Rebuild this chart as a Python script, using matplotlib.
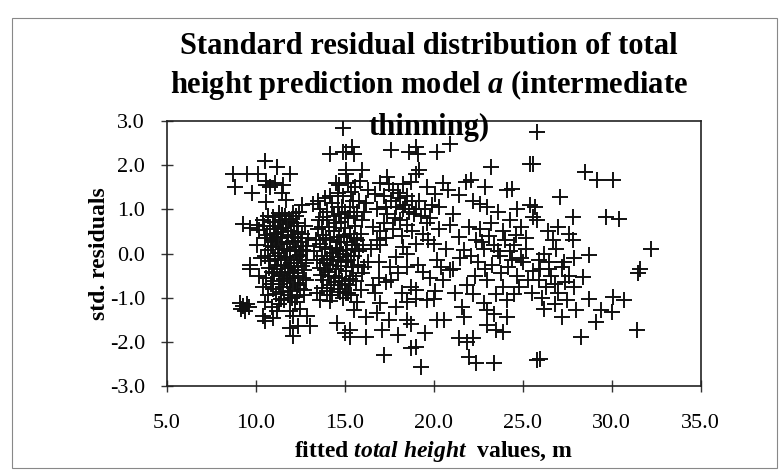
import matplotlib
matplotlib.use("Agg")
import matplotlib.pyplot as plt
from matplotlib.patches import Rectangle

plt.rcParams["font.family"] = ["Liberation Serif", "DejaVu Serif"]
plt.rcParams["mathtext.fontset"] = "custom"
plt.rcParams["mathtext.it"] = "Liberation Serif:italic:bold"
plt.rcParams["mathtext.rm"] = "Liberation Serif:bold"

# fitted total height (m) and standardised residuals
fitted_low = [
    8.75, 9.49, 10.15, 10.52, 11.18, 11.93, 8.84, 9.78, 10.6, 10.6, 10.8, 11.1, 11.55, 11.46,
    10.6, 11.7, 12.6, 13.2, 9.3, 9.7, 10.06, 10.4, 10.2, 11.0, 11.46, 12.1, 9.7, 9.7,
    9.1, 9.3, 9.5, 9.2, 9.6, 9.4, 10.4, 11.0, 10.5, 11.9, 12.1, 12.9, 11.9, 12.4, 13.05, 12.1,
    10.1, 10.3, 10.5, 10.2, 10.4, 10.7, 10.5, 10.9, 11.3, 11.6, 12.2, 12.5, 12.7, 11.2,
    10.8, 11.1, 11.4, 11.7, 12.0, 12.3, 12.6, 10.9, 11.2, 11.5, 11.8, 12.1, 12.4, 12.8,
    10.7, 11.0, 11.3, 11.6, 11.9, 12.2, 12.5, 12.9, 10.8, 11.1, 11.4, 11.7, 12.0, 12.3,
    12.6, 10.9, 11.2, 11.5, 11.8, 12.1, 12.4, 12.7, 11.0, 11.3, 11.6, 11.9, 12.2, 12.5,
    11.4, 11.8, 12.0, 12.3, 11.05, 11.55, 12.15, 11.25, 11.75, 12.35, 11.45, 11.95, 12.55,
    11.65, 12.45, 11.35, 12.85, 10.95,
]
resid_low = [
    1.81, 1.81, 1.81, 2.10, 1.96, 1.81, 1.51, 1.38, 1.65, 1.55, 1.5, 1.6, 1.55, 1.37,
    1.17, 1.21, 1.1, 1.13, 0.68, 0.57, 0.65, 0.76, 0.53, 0.83, 0.87, 0.91, -0.26, -0.36,
    -1.12, -1.19, -1.15, -1.25, -1.22, -1.3, -1.42, -1.45, -1.53, -1.3, -1.42, -1.42, -1.68, -1.64, -1.64, -1.87,
    0.2, -0.1, 0.35, -0.5, -0.75, -0.95, -1.1, -1.2, -1.15, -1.05, -1.1, -1.25, -0.95, -1.3,
    0.55, 0.62, 0.48, 0.66, 0.52, 0.7, 0.45, 0.31, 0.38, 0.22, 0.41, 0.28, 0.35, 0.18,
    0.08, 0.15, 0.02, 0.11, 0.05, 0.14, -0.03, 0.06, -0.18, -0.12, -0.25, -0.08, -0.21, -0.15,
    -0.28, -0.41, -0.35, -0.48, -0.32, -0.45, -0.52, -0.38, -0.62, -0.7, -0.58, -0.76, -0.66, -0.8,
    -0.88, -0.95, -0.85, -0.98, 0.45, 0.58, 0.62, -0.05, 0.27, -0.38, -0.15, -0.55, 0.25,
    0.85, 0.95, 0.75, -0.6, -0.8,
]

fitted_mid = [
    13.8, 14.0, 14.7, 14.8, 14.2, 14.9, 14.5, 14.6, 15.1, 15.1, 15.96, 15.5, 15.4, 14.9, 15.1,
    13.5, 13.8, 14.1, 14.4, 14.7, 15.0, 15.3, 15.6, 13.6, 13.9, 14.2, 14.5, 14.8, 15.1, 15.4, 15.7,
    13.7, 14.0, 14.3, 14.6, 14.9, 15.2, 15.5, 15.8, 13.6, 13.9, 14.2, 14.5, 14.8, 15.1, 15.4,
    13.8, 14.1, 14.4, 14.7, 15.0, 15.3, 14.0, 14.3, 14.6, 14.9, 15.2, 14.2, 13.45, 13.6,
    13.6, 14.3, 14.9, 15.3, 15.6, 15.8, 16.1, 16.3, 16.6, 15.2, 14.6, 16.0, 15.5, 13.9,
    15.1, 15.5, 16.2, 15.3, 16.2, 15.3, 14.55, 15.0, 15.9, 16.6, 15.7, 16.0, 16.3, 16.5,
    17.4, 17.5, 18.7, 18.3, 19.6, 19.2, 19.0, 19.0, 19.1, 20.2, 20.9, 17.6, 18.6,
    17.2, 17.6, 17.9, 18.1, 18.4, 18.6, 18.8, 17.4, 17.8, 18.1, 18.5, 19.0, 19.3, 19.6, 19.9,
    20.1, 17.0, 17.3, 17.0, 17.9, 18.5, 19.0, 20.0, 19.4, 18.2, 16.8, 16.9,
    17.55, 18.5, 19.4, 20.4, 21.1, 17.0, 17.9, 18.5, 19.0, 19.6, 20.0, 19.0, 18.7, 20.5, 20.9,
    18.5, 18.7, 20.2, 20.6, 21.7, 17.1, 17.2, 18.7, 19.0, 19.3, 17.6, 18.2, 16.9,
]
resid_mid = [
    0.83, 0.95, 0.9, 0.72, 2.26, 2.3, 1.59, 1.36, 1.8, 1.9, 1.9, 2.26, 2.41, 2.85, 2.3,
    0.55, 0.42, 0.6, 0.5, 0.38, 0.58, 0.45, 0.62, 0.22, 0.15, 0.3, 0.12, 0.25, 0.08, 0.2, 0.3,
    -0.05, -0.12, 0.02, -0.08, -0.02, -0.15, -0.05, 0.05, -0.32, -0.38, -0.25, -0.35, -0.28, -0.4, -0.3,
    -0.6, -0.52, -0.65, -0.55, -0.68, -0.58, -0.85, -0.95, -0.8, -1.0, -0.9, -1.08, -0.9, -1.05,
    1.0, 1.15, 1.3, 1.05, 1.5, 1.2, 0.95, 1.45, 0.6, 1.6, 1.05, 0.75, 0.85, 1.25,
    -0.9, -1.28, -1.43, -1.74, -1.89, -1.89, -1.57, -1.8, -0.83, -0.72, -1.1, -0.45, -0.2, 0.1,
    1.73, 1.58, 1.62, 1.58, 1.51, 1.9, 1.81, 2.41, 2.26, 2.3, 2.49, 2.35, 2.3,
    1.3, 1.2, 1.05, 1.25, 1.1, 0.95, 1.2, 0.9, 0.8, 0.75, 0.65, 1.0, 0.85, 0.7, 1.1,
    1.35, 0.5, 0.35, 0.19, -0.08, 0.0, 0.22, 0.22, 0.45, 0.4, 1.0, -0.2,
    -0.3, -0.3, -0.42, -0.3, -0.34, -1.13, -1.21, -1.1, -1.02, -1.06, -1.02, -0.83, -0.75, -0.6, -0.38,
    -1.51, -1.59, -1.51, -1.51, -1.43, -1.74, -2.3, -2.15, -2.11, -2.57, -0.6, -0.9, -0.55,
]

fitted_high = [
    21.8, 22.1, 23.2, 25.4, 24.1, 24.4, 21.4, 22.2, 22.6, 23.0, 23.6, 25.4, 25.6, 24.3, 24.9,
    21.1, 20.9, 21.4, 21.7, 25.6, 25.8,
    22.4, 22.8, 23.1, 23.4, 23.7, 24.0, 24.3, 24.6, 24.9, 22.5, 22.9, 23.3, 23.8, 24.2, 24.7, 25.0, 22.3,
    21.4, 22.2, 21.9, 22.0, 22.4, 23.4, 23.0, 23.5, 23.9, 24.1, 23.4, 23.0, 21.9, 22.2, 22.8,
    23.5, 24.5, 24.1, 25.8,
    28.5, 29.2, 30.1, 27.1, 25.7, 25.8, 27.8, 29.7, 30.4, 27.6, 27.8, 26.7, 28.7, 32.2,
    26.2, 26.5, 26.9, 27.2, 26.0, 31.6,
    31.5, 25.6, 25.9, 26.3, 26.6, 27.0, 27.4, 25.5, 26.1, 26.8, 27.5, 28.4, 27.9, 28.7, 28.0,
    27.2, 30.1, 30.7, 29.4, 30.0, 29.1, 28.3, 31.4, 26.0,
]
resid_high = [
    1.62, 1.66, 1.96, 2.03, 1.43, 1.47, 1.32, 1.2, 1.13, 1.05, 0.94, 1.09, 0.83, 0.75, 0.6,
    0.9, 0.64, 0.38, 0.07, 2.03, 2.75,
    0.3, 0.1, 0.4, 0.2, -0.05, 0.3, 0.05, 0.42, -0.1, -0.2, -0.35, -0.25, -0.45, -0.3, -0.5, -0.2, -0.5,
    -1.92, -1.92, -2.0, -2.34, -2.49, -2.49, -1.62, -1.74, -1.77, -1.43, -1.36, -1.28, -0.72, -0.91, -1.13,
    -0.91, -0.91, -1.06, -2.41,
    1.85, 1.66, 1.66, 1.28, 1.05, 0.75, 0.83, 0.83, 0.79, 0.45, 0.3, 0.3, -0.04, 0.11,
    0.0, -0.2, 0.1, -0.3, -0.35, -0.34,
    -0.45, -0.4, -0.6, -0.75, -0.5, -0.9, -0.65, -0.9, -1.0, -1.15, -1.05, -0.53, -0.75, -1.02, -1.28,
    -1.43, -0.98, -1.06, -1.28, -1.32, -1.55, -1.89, -1.74, -2.38,
]

# extra points inside the dark clusters
fitted_core_a = [
    10.45, 10.65, 10.85, 10.55, 10.75, 10.6, 10.85, 11.15, 11.45, 11.75, 12.05, 12.35, 12.65,
    12.85, 12.95, 12.75, 12.25, 11.85, 11.25, 10.95, 11.05, 11.35, 11.65, 11.95, 12.25, 12.55,
    11.15, 11.45, 11.75, 12.05, 12.35, 12.65, 11.55, 11.85, 12.15, 12.45, 10.7, 11.3, 12.0, 12.7,
]
resid_core_a = [
    0.62, 0.42, 0.18, -0.05, -0.32, -0.55, -0.68, -0.92, -1.02, -0.62, -1.0, -0.72, -0.55,
    -0.22, 0.35, 0.62, 0.85, 0.78, 0.55, 0.72, -0.45, -0.52, -0.28, -0.1, 0.05, -0.15,
    0.25, 0.35, 0.08, 0.38, 0.48, 0.08, -0.75, -0.42, -0.3, -0.05, 0.85, 0.92, 0.72, -0.82,
]
fitted_core_b = [
    13.4, 13.55, 13.75, 13.95, 14.15, 14.35, 14.55, 14.75, 14.95, 15.15, 15.35, 15.55, 15.75,
    13.45, 13.65, 13.85, 14.05, 14.25, 14.45, 14.65, 14.85, 15.05, 15.25, 15.45, 15.65,
    13.75, 14.15, 14.75, 15.35, 14.0, 14.4, 14.85, 15.2, 15.45, 15.7, 15.9, 16.05,
    14.2, 14.7, 15.35, 15.85, 16.2, 13.5, 14.5, 15.0, 15.6, 13.3, 16.1,
]
resid_core_b = [
    0.3, 0.75, 0.6, 0.35, 0.1, -0.15, 0.25, 0.05, 0.4, 0.25, -0.05, 0.35, -0.25,
    -0.15, -0.48, -0.22, -0.42, -0.72, -0.5, -0.18, -0.62, -0.2, -0.72, -0.5, -0.62,
    -0.78, -0.95, -0.88, -0.95, 0.75, 0.85, 1.05, 0.8, 1.2, 0.95, 0.45, 0.2,
    1.3, 1.55, 1.4, 1.65, 1.15, 1.2, 0.7, 0.95, 0.1, 0.05, -0.3,
]
fitted_core_c = [
    16.7, 17.0, 17.3, 17.7, 18.0, 18.3, 18.5, 18.9, 19.2, 19.5, 19.8, 20.3, 20.5, 16.8, 17.2,
    17.7, 18.3, 18.8, 19.7, 20.3, 16.7, 17.3, 18.0, 19.1, 19.8, 20.2, 16.8, 17.5, 18.0, 19.5,
    20.1, 20.7,
]
resid_core_c = [
    1.35, 1.6, 1.05, 1.45, 1.38, 1.0, 1.3, 0.9, 1.2, 1.0, 0.8, 1.05, 1.6, 0.3, 0.7,
    0.55, 0.15, 0.5, 0.3, 0.55, -0.9, -0.65, -0.45, -0.25, -0.55, -0.15, -1.35, -1.5, -1.85, -1.8,
    -0.85, 0.1,
]
fitted_core_d = [
    22.0, 22.6, 23.2, 23.9, 24.5, 25.2, 21.5, 22.1, 22.7, 23.6, 24.4, 25.3, 23.0, 23.9, 24.8,
    25.2, 26.4, 27.0, 26.5, 27.3, 26.8, 27.6, 25.9, 26.2, 27.9, 21.2, 21.6, 24.7, 22.9, 20.8,
]
resid_core_d = [
    0.6, 0.55, 0.7, 0.5, 0.2, 0.35, -0.1, -0.05, 0.25, 0.05, -0.15, -0.6, -0.6, -0.75, -0.75,
    0.1, 0.5, 0.6, -0.35, -0.2, -0.7, -0.5, -0.15, -1.25, -0.1, -0.9, -1.2, 1.0, 1.5, 1.45,
]

x_ticks = [5, 10, 15, 20, 25, 30, 35]
y_ticks = [-3, -2, -1, 0, 1, 2, 3]

fitted = (fitted_low + fitted_mid + fitted_high
          + fitted_core_a + fitted_core_b + fitted_core_c + fitted_core_d)
resid = (resid_low + resid_mid + resid_high
         + resid_core_a + resid_core_b + resid_core_c + resid_core_d)

fig = plt.figure(figsize=(7.8, 4.73), dpi=100)
ax = fig.add_axes([0.2137, 0.184, 0.6846, 0.560])

ax.scatter(fitted, resid, marker="+", s=120, linewidths=1.4, color="#111111", zorder=3)

ax.set_xlim(5, 35)
ax.set_ylim(-3, 3)
ax.set_xticks(x_ticks)
ax.set_yticks(y_ticks)
ax.set_xticklabels([f"{v:.1f}" for v in x_ticks])
ax.set_yticklabels([f"{v:.1f}" for v in y_ticks])
ax.tick_params(axis="both", direction="inout", length=9, width=1.0, labelsize=16,
               color="#333333")
ax.tick_params(axis="x", pad=16)
ax.tick_params(axis="y", pad=11)
for spine in ax.spines.values():
    spine.set_linewidth(1.2)
    spine.set_color("#222222")

ax.set_xlabel(r"fitted $total\ height$  values, m", fontsize=17, fontweight="bold")
ax.xaxis.set_label_coords(0.5, -0.20)
ax.set_ylabel("std. residuals", fontsize=17, fontweight="bold")
ax.yaxis.set_label_coords(-0.107, 0.5)

title_lines = [
    "Standard residual distribution of total",
    r"height prediction model $a$ (intermediate",
    "thinning)",
]
for line, ypx in zip(title_lines, [47, 85, 127]):
    fig.text(0.55, 1 - ypx / 473, line, ha="center", va="center",
             fontsize=22, fontweight="bold")

fig.add_artist(Rectangle((12 / 780, 5 / 473), 765 / 780, 450 / 473, transform=fig.transFigure,
                         fill=False, edgecolor="#888888", linewidth=0.8))

fig.savefig("out.png", dpi=100)
